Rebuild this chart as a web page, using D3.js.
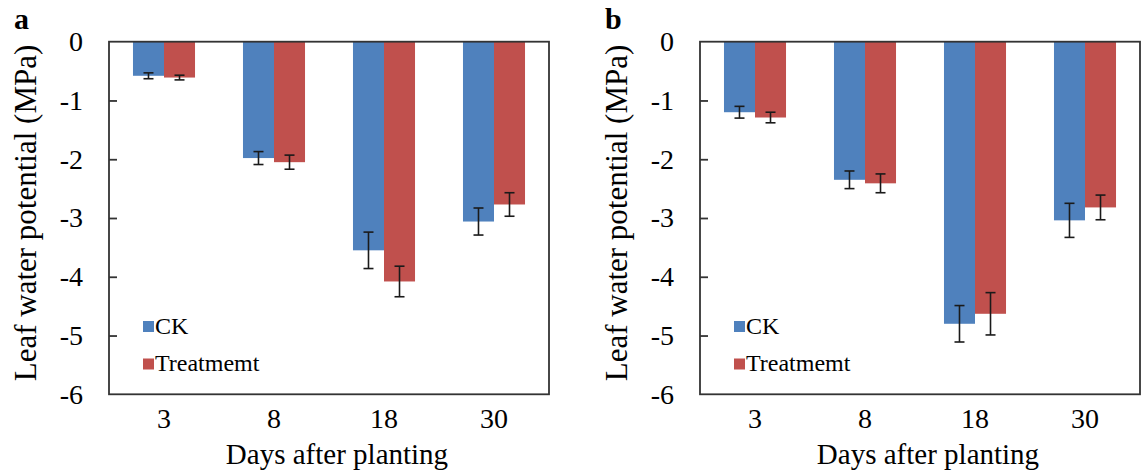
<!DOCTYPE html>
<html>
<head>
<meta charset="utf-8">
<script src="https://cdn.jsdelivr.net/npm/d3@7"></script>
<style>
  html, body { margin: 0; padding: 0; background: #fff; }
  svg { display: block; }
  svg text { font-family: "Liberation Serif", "Times New Roman", serif !important; fill: #000; }
</style>
</head>
<body>
<svg id="chart" width="1141" height="476"></svg>
<script>
// ---- data ----
const days = ["3", "8", "18", "30"];
const seriesNames = ["CK", "Treatmemt"];
const yTicks = [0, -1, -2, -3, -4, -5, -6];

const panelA_CK = [-0.58, -1.98, -3.55, -3.06];
const panelA_CK_err = [0.05, 0.11, 0.31, 0.23];
const panelA_Trt = [-0.61, -2.05, -4.08, -2.77];
const panelA_Trt_err = [0.04, 0.12, 0.26, 0.20];

const panelB_CK = [-1.20, -2.35, -4.80, -3.04];
const panelB_CK_err = [0.10, 0.15, 0.31, 0.29];
const panelB_Trt = [-1.29, -2.41, -4.63, -2.82];
const panelB_Trt_err = [0.09, 0.16, 0.36, 0.21];

const colors = ["#4F81BD", "#C0504D"];

const panels = [
  { label: "a", left: 109, ck: panelA_CK, ckErr: panelA_CK_err, trt: panelA_Trt, trtErr: panelA_Trt_err },
  { label: "b", left: 700, ck: panelB_CK, ckErr: panelB_CK_err, trt: panelB_Trt, trtErr: panelB_Trt_err }
];

const svg = d3.select("#chart");
const W = 440, plotTop = 41.7, plotBottom = 394.3;

panels.forEach(p => {
  const g = svg.append("g");
  const x0 = d3.scaleBand().domain(days).range([p.left, p.left + W])
    .paddingInner(0.436).paddingOuter(0.218);
  const x1 = d3.scaleBand().domain(seriesNames).range([0, x0.bandwidth()]);
  const y = d3.scaleLinear().domain([0, -6]).range([plotTop, plotBottom]);

  const rows = days.map((d, i) => ({
    day: d,
    vals: [
      { s: seriesNames[0], v: p.ck[i], e: p.ckErr[i] },
      { s: seriesNames[1], v: p.trt[i], e: p.trtErr[i] }
    ]
  }));

  // bars
  const grp = g.selectAll("g.grp").data(rows).join("g").attr("class", "grp")
    .attr("transform", d => `translate(${x0(d.day)},0)`);
  grp.selectAll("rect").data(d => d.vals).join("rect")
    .attr("x", d => x1(d.s))
    .attr("width", x1.bandwidth())
    .attr("y", y(0))
    .attr("height", d => y(d.v) - y(0))
    .attr("fill", (d, i) => colors[i]);

  // error bars
  const eb = grp.selectAll("g.eb").data(d => d.vals).join("g").attr("class", "eb")
    .attr("stroke", "#1a1a1a").attr("stroke-width", 1.6).attr("fill", "none");
  eb.append("line")
    .attr("x1", d => x1(d.s) + x1.bandwidth() / 2)
    .attr("x2", d => x1(d.s) + x1.bandwidth() / 2)
    .attr("y1", d => y(d.v + d.e)).attr("y2", d => y(d.v - d.e));
  eb.append("line")
    .attr("x1", d => x1(d.s) + x1.bandwidth() / 2 - 5)
    .attr("x2", d => x1(d.s) + x1.bandwidth() / 2 + 5)
    .attr("y1", d => y(d.v + d.e)).attr("y2", d => y(d.v + d.e));
  eb.append("line")
    .attr("x1", d => x1(d.s) + x1.bandwidth() / 2 - 5)
    .attr("x2", d => x1(d.s) + x1.bandwidth() / 2 + 5)
    .attr("y1", d => y(d.v - d.e)).attr("y2", d => y(d.v - d.e));

  // frame
  g.append("rect")
    .attr("x", p.left).attr("y", plotTop)
    .attr("width", W).attr("height", plotBottom - plotTop)
    .attr("fill", "none").attr("stroke", "#333").attr("stroke-width", 1.8);

  // y axis: inward ticks
  const yAxis = d3.axisLeft(y).tickValues(yTicks).tickSize(-8).tickPadding(26)
    .tickFormat(d => d === 0 ? "0" : String(d));
  const ya = g.append("g").attr("transform", `translate(${p.left},0)`).call(yAxis)
    .attr("font-family", "Liberation Serif").attr("font-size", 28);
  ya.select(".domain").remove();
  ya.selectAll(".tick line").attr("stroke", "#333").attr("stroke-width", 1.8);
  ya.selectAll(".tick").filter(d => d === 0 || d === -6).select("line").remove();
  ya.selectAll(".tick text").style("font-size", "28px");

  // x axis labels
  const xAxis = d3.axisBottom(x0).tickSize(0).tickPadding(14);
  const xa = g.append("g").attr("transform", `translate(0,${plotBottom})`).call(xAxis)
    .attr("font-family", "Liberation Serif").attr("font-size", 28);
  xa.select(".domain").remove();
  xa.selectAll(".tick text").style("font-size", "28px");

  // axis titles
  g.append("text")
    .attr("x", p.left + W / 2 + 8).attr("y", 464)
    .attr("text-anchor", "middle").style("font-size", "29px")
    .text("Days after planting");
  g.append("text")
    .attr("transform", `translate(${p.left - 73},213) rotate(-90)`)
    .attr("text-anchor", "middle").style("font-size", "31px")
    .text("Leaf water potential (MPa)");

  // panel label
  g.append("text")
    .attr("x", p.left - 95).attr("y", 29)
    .style("font-size", "30px").style("font-weight", "bold")
    .text(p.label);

  // legend
  const lg = g.append("g").attr("transform", `translate(${p.left + 34},0)`);
  seriesNames.forEach((s, i) => {
    lg.append("rect").attr("x", 0).attr("y", 321 + i * 37.5)
      .attr("width", 11).attr("height", 11).attr("fill", colors[i]);
    lg.append("text").attr("x", 12).attr("y", 333.5 + i * 37.5)
      .style("font-size", "24px").text(s);
  });
});
</script>
</body>
</html>
